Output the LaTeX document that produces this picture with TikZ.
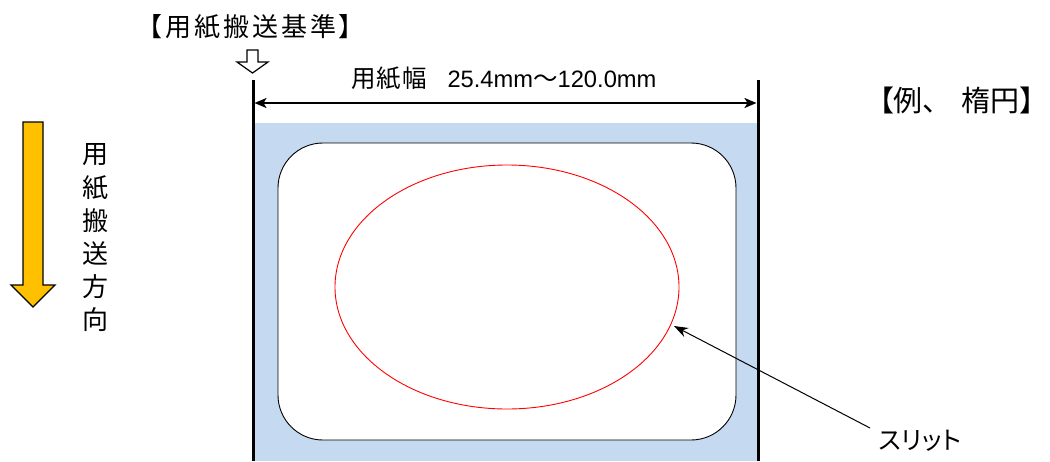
\documentclass[tikz,border=0pt]{standalone}
\usepackage{fontspec}
\setmainfont{Noto Sans CJK JP}[RawFeature=+palt]
\newfontfamily\latfont{Liberation Sans}
\usetikzlibrary{arrows.meta}
\definecolor{paperblue}{RGB}{197,217,240}
\definecolor{feedorange}{RGB}{255,192,0}
\definecolor{slitred}{RGB}{255,0,0}
\tikzset{
  lbl/.style={inner sep=0pt, text=black},
  edge/.style={line width=3pt, black},
}
\newcommand\gp{\hspace{3pt}}
\begin{document}
\begin{tikzpicture}[x=1pt,y=-1pt]
\useasboundingbox (0,0) rectangle (1050,461);
% paper
\fill[paperblue] (253,123) rectangle (758,461);
\draw[black, line width=0.9pt, fill=white, rounded corners=45pt] (278,143) rectangle (736,440);
\draw[slitred, line width=0.9pt] (507,287) ellipse [x radius=172, y radius=122];
\coordinate (slitpt) at (674,326);
% edges
\coordinate (lt) at (253,80); \coordinate (lb) at (253,461);
\coordinate (rt) at (758,80); \coordinate (rb) at (758,461);
\draw[edge] (lt) -- (lb);
\draw[edge] (rt) -- (rb);
% width dimension
\coordinate (dl) at (254.5,103); \coordinate (dr) at (756.5,103);
\draw[line width=2pt, {Stealth[length=12pt,width=10pt,inset=3pt]}-{Stealth[length=12pt,width=10pt,inset=3pt]}] (dl) -- (dr);
\node[lbl, anchor=base west, font=\fontsize{24.5}{26}\selectfont] (wlabel) at (351,87) {用\hspace{1pt}紙\hspace{1pt}幅\hspace{0.85em}{\fontsize{23.7}{26}\selectfont\latfont 25.4mm}～{\fontsize{23.7}{26}\selectfont\latfont 120.0mm}};
% reference label and hollow arrow
\node[lbl, anchor=base west, font=\fontsize{26}{28}\selectfont] (reflabel) at (149,36) {【\gp 用\gp 紙\gp 搬\gp 送\gp 基\gp 準\gp 】};
\draw[black, line width=1.2pt, fill=white] (247,50) -- (258,50) -- (258,62) -- (268,62) -- (252.5,73) -- (237,62) -- (247,62) -- cycle;
% example label
\node[lbl, anchor=base west, font=\fontsize{29}{32}\selectfont] (exlabel) at (879,111) {【例、\hspace{0.85em}楕円】};
% feed direction arrow
\draw[black, line width=1.3pt, fill=feedorange] (23,122) -- (43,122) -- (43,285) -- (55,285) -- (33,307) -- (11,285) -- (23,285) -- cycle;
\foreach \ch [count=\i] in {用,紙,搬,送,方,向}
  \node[lbl, anchor=center, font=\fontsize{26}{30}\selectfont] (dir\i) at (95,{155+33*(\i-1)}) {\ch};
% slit label
\node[lbl, anchor=base west, font=\fontsize{25}{28}\selectfont] (slitlabel) at (879,449) {スリット};
\coordinate (slittail) at (870,428);
\draw[black, line width=1pt, -{Stealth[length=14pt,width=10pt]}] (slittail) -- (slitpt);
\end{tikzpicture}
\end{document}
